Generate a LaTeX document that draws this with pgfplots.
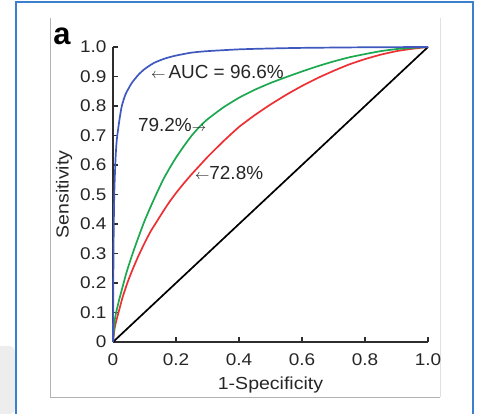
\documentclass[border=0pt]{standalone}
\usepackage{pgfplots}
\pgfplotsset{compat=1.18}
\usepackage{fontspec}
\setmainfont{Liberation Sans}[FakeStretch=1.12]
\newfontfamily\annfont{Liberation Sans}
\definecolor{cBlue}{RGB}{62,88,190}
\definecolor{cGreen}{RGB}{28,168,78}
\definecolor{cRed}{RGB}{236,48,52}
\definecolor{cFrame}{RGB}{60,128,205}
\definecolor{cAxis}{RGB}{45,45,45}

\begin{document}
\begin{tikzpicture}
\path[use as bounding box] (0,0) rectangle (479bp,414bp);
% screenshot frame
\fill[black!7, rounded corners=6bp] (-8bp,0) rectangle (15bp,68bp);
\draw[black!30, line width=0.8bp] (50bp,396bp) -- (50bp,17bp) -- (440bp,17bp);
\draw[black!12, line width=0.6bp] (440bp,17bp) -- (440bp,396bp);
\draw[cFrame, line width=2bp] (16bp,-4bp) -- (16bp,411.5bp) -- (472.5bp,411.5bp) -- (472.5bp,-4bp);

\begin{axis}[
  at={(113bp,72bp)}, anchor=south west,
  scale only axis, width=315bp, height=295bp,
  xmin=0, xmax=1, ymin=0, ymax=1, enlargelimits=false,
  axis lines*=left, axis line style={cAxis, line width=1.6bp},
  tick align=inside, major tick length=5bp,
  tick style={cAxis, line width=1.2bp},
  xtick={0,0.2,0.4,0.6,0.8,1},
  xticklabels={0,0.2,0.4,0.6,0.8,1.0},
  ytick={0,0.1,0.2,0.3,0.4,0.5,0.6,0.7,0.8,0.9,1},
  yticklabels={0,0.1,0.2,0.3,0.4,0.5,0.6,0.7,0.8,0.9,1.0},
  /pgf/number format/assume math mode=true,
  tick label style={font=\fontsize{17}{19}\selectfont, text=black!85},
  xticklabel style={yshift=-8bp},
  yticklabel style={xshift=-3bp},
  label style={font=\fontsize{17.5}{20}\selectfont, text=black!85},
  xlabel={1-Specificity},
  ylabel={Sensitivity},
  xlabel style={yshift=-5bp},
  ylabel style={yshift=1bp},
  clip=false,
]
\addplot[black, line width=1.7bp] coordinates {(0,0) (1,1)};
\addplot[cRed, line width=1.7bp, smooth, tension=0.3] coordinates {
(0,0) (0.005,0.045) (0.01,0.07) (0.02,0.11) (0.03,0.15) (0.04,0.183)
(0.05,0.213) (0.065,0.253) (0.08,0.29) (0.1,0.335) (0.12,0.376)
(0.14,0.41) (0.16,0.444) (0.18,0.476) (0.2,0.505) (0.225,0.538)
(0.25,0.569) (0.275,0.598) (0.3,0.627) (0.35,0.68) (0.4,0.729)
(0.45,0.769) (0.5,0.805) (0.55,0.838) (0.6,0.868) (0.65,0.895)
(0.7,0.919) (0.75,0.941) (0.8,0.959) (0.85,0.974) (0.9,0.986)
(0.95,0.994) (1,1)};
\addplot[cGreen, line width=1.7bp, smooth, tension=0.3] coordinates {
(0,0) (0.005,0.07) (0.01,0.1) (0.02,0.145) (0.03,0.185) (0.04,0.225)
(0.05,0.26) (0.065,0.308) (0.08,0.353) (0.1,0.41) (0.12,0.46)
(0.14,0.507) (0.16,0.552) (0.18,0.59) (0.2,0.625) (0.225,0.664)
(0.25,0.70) (0.275,0.73) (0.3,0.755) (0.35,0.795) (0.4,0.828)
(0.45,0.855) (0.5,0.878) (0.55,0.898) (0.6,0.917) (0.65,0.935)
(0.7,0.951) (0.75,0.965) (0.8,0.976) (0.85,0.986) (0.9,0.993)
(0.95,0.997) (1,1)};
\addplot[cBlue, line width=1.7bp, smooth, tension=0.4] coordinates {
(0,0) (0.001,0.2) (0.002,0.35) (0.004,0.5) (0.008,0.62) (0.012,0.685)
(0.02,0.75) (0.028,0.80) (0.04,0.84) (0.059,0.877) (0.08,0.905)
(0.10,0.925) (0.13,0.946) (0.165,0.961) (0.2,0.971) (0.25,0.981)
(0.3,0.986) (0.4,0.992) (0.5,0.995) (0.6,0.997) (0.8,0.999) (1,1)};

\node[anchor=west, inner sep=0pt, font=\annfont\fontsize{19}{21}\selectfont, text=black!85]
  at (axis cs:0.12,0.915) {{\fontsize{14}{14}\selectfont$\leftarrow$}\,AUC = 96.6\%};
\node[anchor=west, inner sep=0pt, font=\annfont\fontsize{19}{21}\selectfont, text=black!85]
  at (axis cs:0.079,0.736) {79.2\%{\fontsize{14}{14}\selectfont$\rightarrow$}};
\node[anchor=west, inner sep=0pt, font=\annfont\fontsize{19}{21}\selectfont, text=black!85]
  at (axis cs:0.26,0.573) {{\fontsize{14}{14}\selectfont$\leftarrow$}72.8\%};
\end{axis}
\node[font=\annfont\bfseries\fontsize{31}{33}\selectfont] at (62bp,378bp) {a};
\end{tikzpicture}
\end{document}
